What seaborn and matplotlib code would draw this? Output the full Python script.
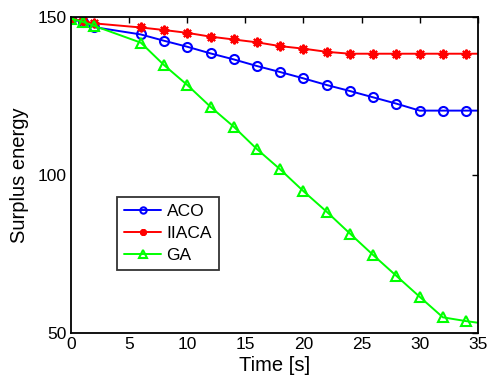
import matplotlib
matplotlib.use("Agg")
import matplotlib.pyplot as plt
import seaborn as sns
import pandas as pd

time = [0, 1, 2, 6, 8, 10, 12, 14, 16, 18, 20, 22, 24, 26, 28, 30, 32, 34, 36]
aco = [149.5, 148.4, 146.8, 144.5, 142.5, 140.6, 138.5, 136.6, 134.5, 132.6,
       130.6, 128.5, 126.6, 124.6, 122.6, 120.4, 120.4, 120.4, 120.4]
iiaca = [149.5, 148.8, 148.0, 146.7, 145.9, 145.0, 143.8, 142.9, 142.0, 140.8,
         140.0, 139.0, 138.4, 138.4, 138.4, 138.4, 138.4, 138.4, 138.4]
ga = [149.5, 148.5, 147.2, 141.9, 134.8, 128.5, 121.6, 115.3, 108.2, 101.8,
      94.9, 88.4, 81.5, 74.7, 68.1, 61.5, 55.0, 53.8, 52.8]

series = {"ACO": (aco, "#0000ff", "o", 6.5),
          "IIACA": (iiaca, "#ff0000", (8, 2, 0), 7),
          "GA": (ga, "#00ff00", "^", 7.5)}

sns.set_style("white")
plt.rcParams['font.family'] = ['Liberation Sans', 'DejaVu Sans']
plt.rcParams['text.color'] = 'black'
plt.rcParams['axes.labelcolor'] = 'black'

fig = plt.figure(figsize=(4.87, 3.79), dpi=100)
ax = fig.add_axes([0.146, 0.121, 0.835, 0.834])

for name, (vals, col, mk, ms) in series.items():
    df = pd.DataFrame({"t": time, "v": vals})
    sns.lineplot(data=df, x="t", y="v", ax=ax, color=col, marker=mk,
                 markersize=ms, markerfacecolor='none',
                 markeredgecolor=col, markeredgewidth=1.5, linewidth=1.4,
                 label=name)

ax.set_xlim(0, 35)
ax.set_ylim(50, 150)
ax.set_xticks([0, 5, 10, 15, 20, 25, 30, 35])
ax.set_yticks([50, 100, 150])
ax.tick_params(direction='in', top=True, right=True, length=4, width=1,
               labelsize=12.5, colors='black')
ax.tick_params(axis='x', pad=3)
ax.tick_params(axis='y', pad=3)
for s in ax.spines.values():
    s.set_visible(True)
    s.set_color('black')
    s.set_linewidth(1.3)
ax.set_xlabel("Time [s]", fontsize=14.5, labelpad=3, color='black')
ax.set_ylabel("Surplus energy", fontsize=14.5, labelpad=6, color='black')

leg = ax.legend(loc='lower left', bbox_to_anchor=(0.113, 0.2), fontsize=12.5,
                frameon=True, fancybox=False, edgecolor='black',
                borderpad=0.4, handlelength=2.15, labelspacing=0.4,
                handletextpad=0.3, borderaxespad=0, markerscale=0.7)
leg.get_frame().set_linewidth(1.3)
for t in leg.get_texts():
    t.set_color('black')

fig.savefig("out.png", dpi=100)
